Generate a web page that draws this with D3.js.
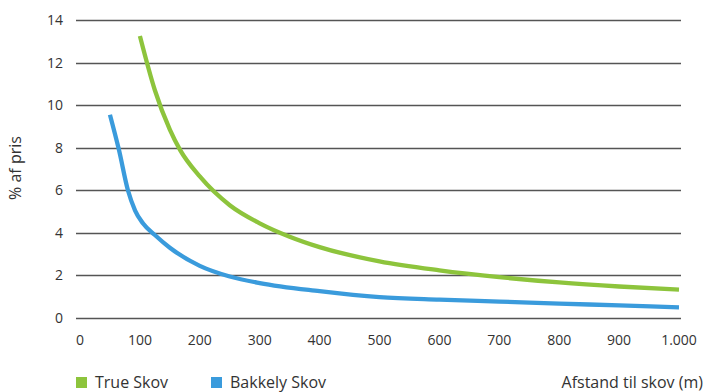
<!DOCTYPE html>
<html><head><meta charset="utf-8">
<script src="https://cdn.jsdelivr.net/npm/d3@7"></script>
<style>
body{margin:0;background:#fff;}
text{font-family:"Open Sans",sans-serif;fill:#333;}
</style></head>
<body><svg id="c" width="705" height="392"></svg>
<script>
const xTicks = [0,100,200,300,400,500,600,700,800,900,1000];
const yTicks = [0,2,4,6,8,10,12,14];
const seriesNames = ["True Skov","Bakkely Skov"];
const trueX = [100,125,150,167,200,250,300,350,400,500,600,700,800,900,1000];
const trueY = [13.25,10.7,8.85,7.9,6.65,5.3,4.45,3.82,3.33,2.66,2.24,1.92,1.67,1.48,1.33];
const bakX = [50,65,80,92,105,125,150,200,250,300,400,500,600,700,800,900,1000];
const bakY = [9.55,7.9,6.0,5.05,4.45,3.9,3.3,2.45,1.95,1.64,1.26,0.98,0.86,0.77,0.68,0.59,0.5];
const colors = ["#8dc43c","#3a9bdc"];
const xTitle = "Afstand til skov (m)";
const yTitle = "% af pris";

const svg = d3.select("#c");
const x = d3.scaleLinear().domain([0,1000]).range([80,679]);
const y = d3.scaleLinear().domain([0,14]).range([318,20]);
const loc = d3.formatLocale({decimal:",",thousands:".",grouping:[3],currency:["","kr"]});
const fmt = loc.format(",d");

// gridlines
svg.append("g").selectAll("line").data(yTicks).join("line")
  .attr("x1",76).attr("x2",681)
  .attr("y1",d=>Math.round(y(d))+0.5).attr("y2",d=>Math.round(y(d))+0.5)
  .attr("stroke","#555").attr("stroke-width",1.3);

// y tick labels
svg.append("g").selectAll("text").data(yTicks).join("text")
  .attr("x",63).attr("y",d=>y(d)).attr("dy","0.36em")
  .attr("text-anchor","end").attr("font-size",14).text(d=>d);

// x tick labels
svg.append("g").selectAll("text").data(xTicks).join("text")
  .attr("x",d=>x(d)).attr("y",345)
  .attr("text-anchor","middle").attr("font-size",14).text(d=>fmt(d));

// lines
const line = d3.line().x(d=>x(d[0])).y(d=>y(d[1])).curve(d3.curveMonotoneX);
const data = [d3.zip(trueX,trueY), d3.zip(bakX,bakY)];
svg.append("g").selectAll("path").data(data).join("path")
  .attr("d",line).attr("fill","none")
  .attr("stroke",(d,i)=>colors[i]).attr("stroke-width",4.3);

// y title
svg.append("text").attr("transform","translate(21,168) rotate(-90)")
  .attr("text-anchor","middle").attr("font-size",16).text(yTitle);

// x title
svg.append("text").attr("x",703).attr("y",388).attr("text-anchor","end")
  .attr("font-size",16).text(xTitle);

// legend
const legX = [76,211];
const lg = svg.append("g").selectAll("g").data(seriesNames).join("g")
  .attr("transform",(d,i)=>`translate(${legX[i]},0)`);
lg.append("rect").attr("x",0).attr("y",377).attr("width",11).attr("height",11)
  .attr("fill",(d,i)=>colors[i]);
lg.append("text").attr("x",19).attr("y",388).attr("font-size",16).text(d=>d);
</script></body></html>
